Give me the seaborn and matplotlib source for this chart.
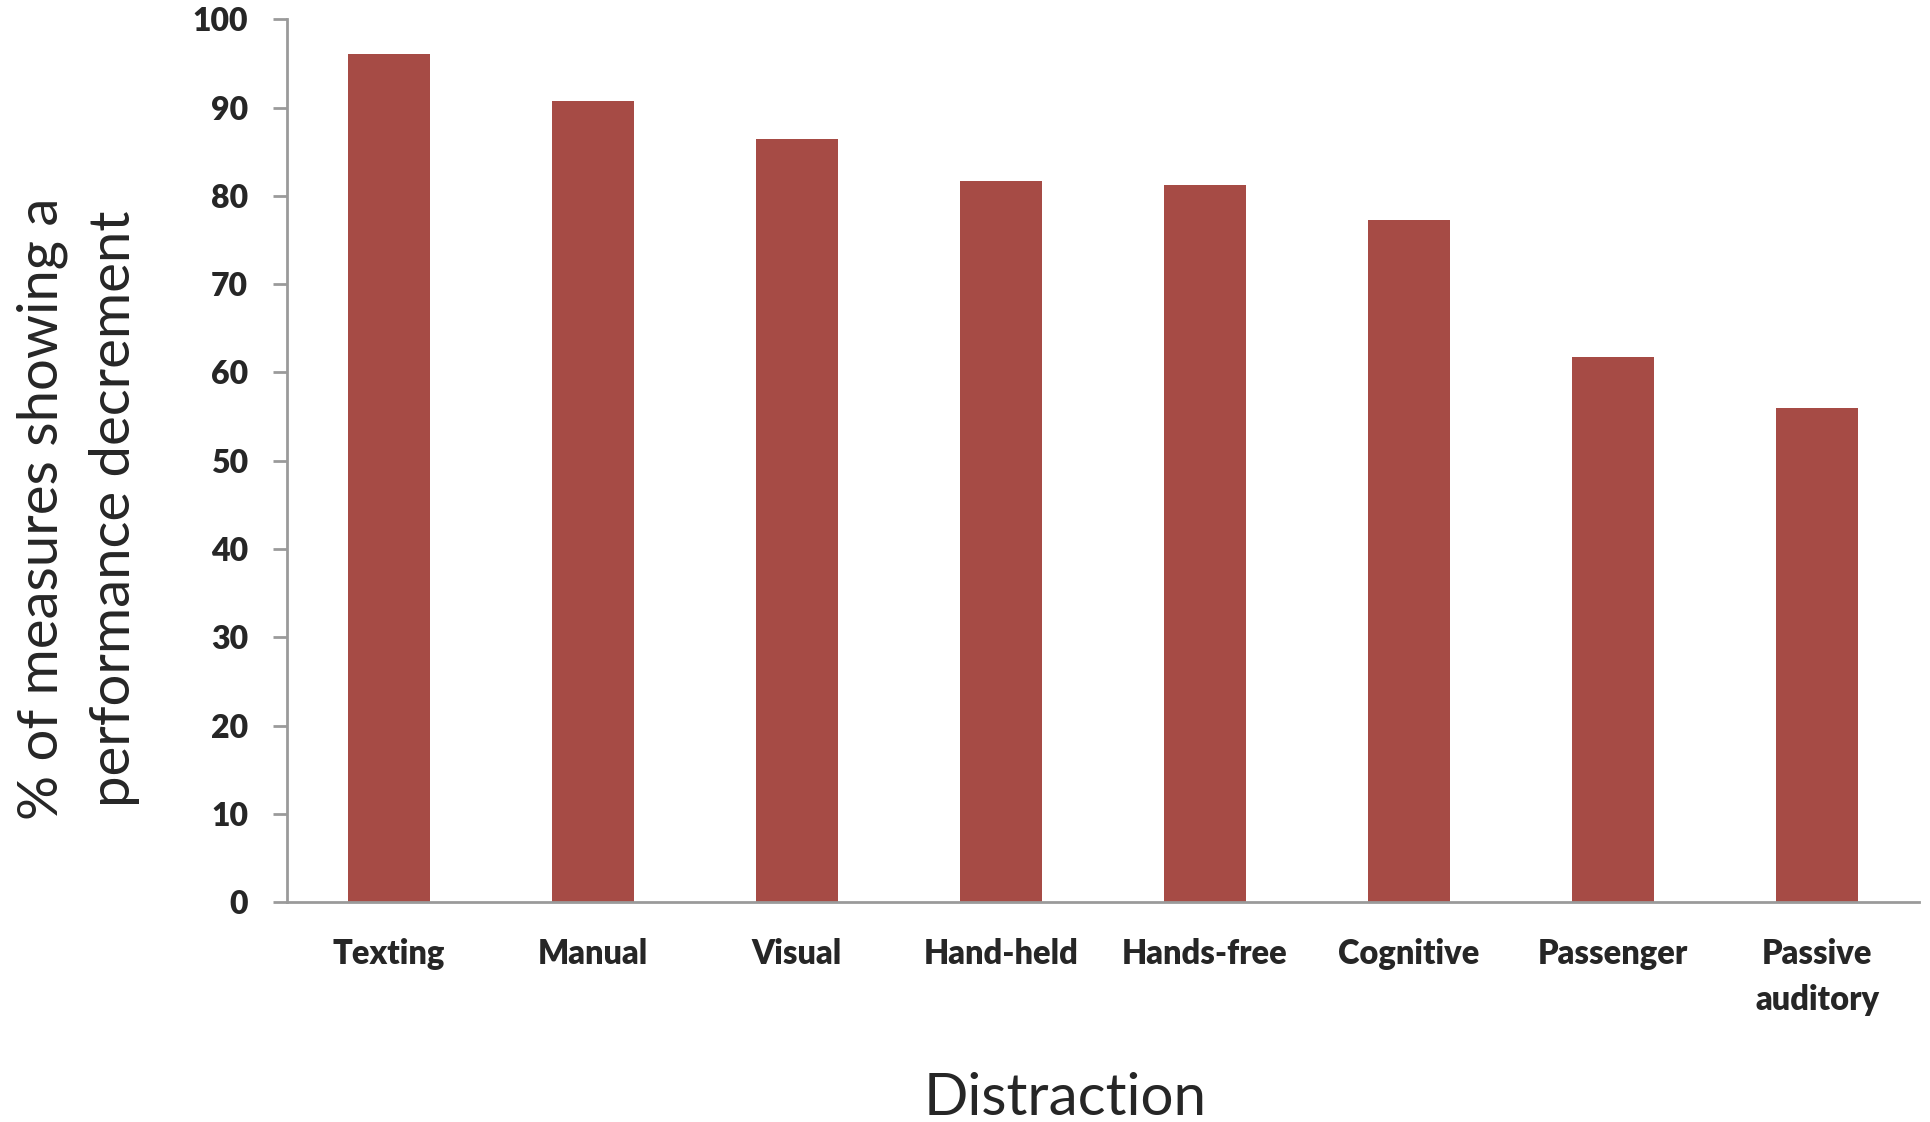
import numpy as np
import pandas as pd
import matplotlib
matplotlib.use("Agg")
import matplotlib.pyplot as plt
import seaborn as sns

categories = ["Texting", "Manual", "Visual", "Hand-held", "Hands-free",
              "Cognitive", "Passenger", "Passive\nauditory"]
values = [96.1, 90.8, 86.4, 81.7, 81.2, 77.3, 61.8, 56.0]
yticks = [0, 10, 20, 30, 40, 50, 60, 70, 80, 90, 100]

sns.set_theme(style="white")
plt.rcParams["font.family"] = ["Lato", "DejaVu Sans"]

df = pd.DataFrame({"Distraction": categories, "value": values})

fig = plt.figure(figsize=(19.31, 11.22), dpi=100)
ax = fig.add_axes([0.1486, 0.196, 0.8452, 0.7868])

sns.barplot(data=df, x="Distraction", y="value", color="#A64B45",
            saturation=1, width=0.4, ax=ax, edgecolor="none")

ax.set_xlim(-0.5, len(categories) - 0.5)
ax.set_ylim(0, 100)
ax.set_yticks(yticks)
ax.set_yticklabels([str(t) for t in yticks], fontsize=23, fontweight="heavy")
ax.set_xticks(range(len(categories)))
ax.set_xticklabels(categories, fontsize=23.5, fontweight="heavy", linespacing=1.55)
ax.set_xticks(np.arange(-0.5, len(categories), 1.0), minor=True)
ax.tick_params(axis="x", which="major", length=0, pad=26)
ax.tick_params(axis="x", which="minor", length=12, width=2, color="#9a9a9a", direction="out")
ax.tick_params(axis="y", which="major", length=10, width=2, color="#9a9a9a", direction="out", pad=18, left=True)

for s in ["top", "right"]:
    ax.spines[s].set_visible(False)
for s in ["left", "bottom"]:
    ax.spines[s].set_color("#9a9a9a")
    ax.spines[s].set_linewidth(2)

ax.set_ylabel("% of measures showing a\nperformance decrement", fontsize=40.5,
              linespacing=1.5, va="center", ha="center")
ax.yaxis.set_label_coords(-0.128, 0.446)
ax.set_xlabel("Distraction", fontsize=42, va="center", ha="center")
ax.xaxis.set_label_coords(0.477, -0.223)

fig.savefig("out.png", dpi=100, facecolor="white")
